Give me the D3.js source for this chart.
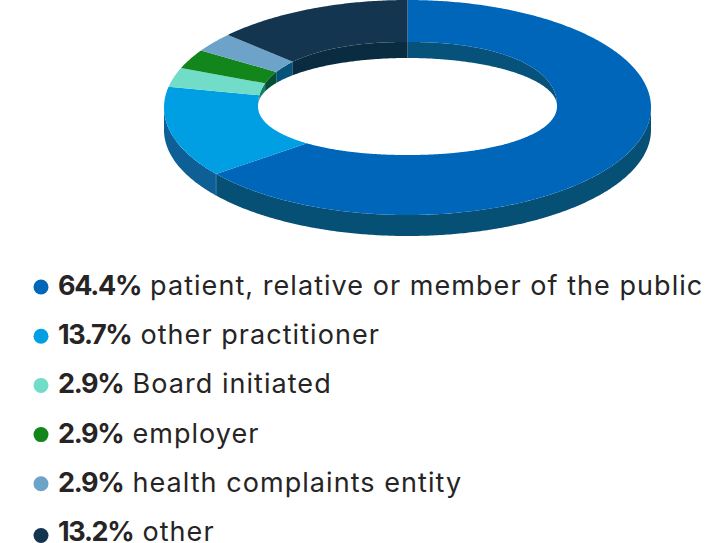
<!DOCTYPE html>
<html><head><meta charset="utf-8">
<script src="https://cdn.jsdelivr.net/npm/d3@7"></script>
<style>html,body{margin:0;padding:0;background:#fff}svg{display:block}
text{font-family:Inter,sans-serif;font-size:27px;font-weight:400;fill:#262425}
.pct{font-weight:700;letter-spacing:-1.3px}
.lab{letter-spacing:1.05px}</style>
</head><body><svg id="c" width="720" height="543"></svg>
<script>
const percents = [64.4, 13.7, 2.9, 2.9, 2.9, 13.2];
const labels = ["patient, relative or member of the public","other practitioner","Board initiated","employer","health complaints entity","other"];
const colors = ["#0066ba","#009fe3","#71dcc8","#12861b","#6ea3c9","#14354f"];
const outerWall = ["#064f75","#0d5f96","#0d5f96","#0d5f96","#0d5f96","#0a2c40"];
const innerWall = ["#07527a","#0f7e6a","#0f7e6a","#024f32","#05527a","#0a2c40"];

const svg = d3.select("#c");
const cx = 407.5;
const pie = d3.pie().sort(null).value(d=>d);
const arcs = pie(percents);
const line = d3.line();
const close = p => line(p)+"Z";

const rim = (a,cy,rx,ry)=>[cx+rx*Math.sin(a), cy-ry*Math.cos(a)];
const topRim = a=>rim(a,107.5,243.5,107.5);
const baseRim = a=>rim(a,130,243.5,106);
const oy = 106, vanishY = 109.5;
// Walk from the outer rim towards the vanishing centre until the inner edge is met.
function faceEdge(a){
  const p = topRim(a);
  const inside = (x,y)=>{
    const up = y<oy, ry = up?64:49, n = up?2.2:2.1;
    return Math.pow(Math.abs(x-cx)/149.5,n)+Math.pow(Math.abs(y-oy)/ry,n) < 1;
  };
  let lo=0, hi=1;
  for(let k=0;k<30;k++){
    const m=(lo+hi)/2, x=p[0]+(cx-p[0])*m, y=p[1]+(vanishY-p[1])*m;
    if(inside(x,y)) hi=m; else lo=m;
  }
  return [p[0]+(cx-p[0])*lo, p[1]+(vanishY-p[1])*lo];
}
// Inner wall falls straight down from the face edge; it vanishes below the hole's widest line.
const holeEdge = a=>{
  const f = faceEdge(a);
  if(f[1]>=oy) return f;
  const u = Math.min(1,Math.abs(f[0]-cx)/149.5);
  return [f[0], oy-48*Math.sqrt(1-u*u)];
};
const sample = (a0,a1)=>{const n=Math.max(2,Math.ceil((a1-a0)/0.01));return d3.range(n+1).map(i=>a0+(a1-a0)*i/n);};

const g = svg.append("g");
arcs.forEach((d,i)=>{
  const a0=Math.max(d.startAngle,Math.PI/2), a1=Math.min(d.endAngle,Math.PI*1.5);
  if(a1<=a0) return;
  const s=sample(a0,a1);
  g.append("path").attr("d",close(s.map(topRim).concat(s.slice().reverse().map(baseRim)))).attr("fill",outerWall[i]);
});
{const a=arcs[0].endAngle; g.append("path").attr("d",line([topRim(a),baseRim(a)])).attr("stroke","#3f7fa8").attr("stroke-width",1).attr("fill","none");}
arcs.forEach((d,i)=>{
  const s=sample(d.startAngle,d.endAngle);
  g.append("path").attr("d",close(s.map(faceEdge).concat(s.slice().reverse().map(holeEdge)))).attr("fill",innerWall[i]);
});
arcs.forEach((d,i)=>{
  const s=sample(d.startAngle,d.endAngle);
  g.append("path").attr("d",close(s.map(topRim).concat(s.slice().reverse().map(faceEdge)))).attr("fill",colors[i]);
});
const yScale = d3.scalePoint().domain(d3.range(percents.length)).range([295,541]);
const items = svg.append("g").selectAll("g").data(percents).join("g").attr("transform",(d,i)=>`translate(0,${yScale(i)})`);
items.append("circle").attr("cx",41).attr("cy",(d,i)=>i===percents.length-1?-5.5:-8).attr("r",7.5).attr("fill",(d,i)=>colors[i]);
const t = items.append("text").attr("x",58);
t.append("tspan").attr("class","pct").text(d=>d+"%");
t.append("tspan").attr("class","lab").attr("dx",9).text((d,i)=>labels[i]);
</script></body></html>
